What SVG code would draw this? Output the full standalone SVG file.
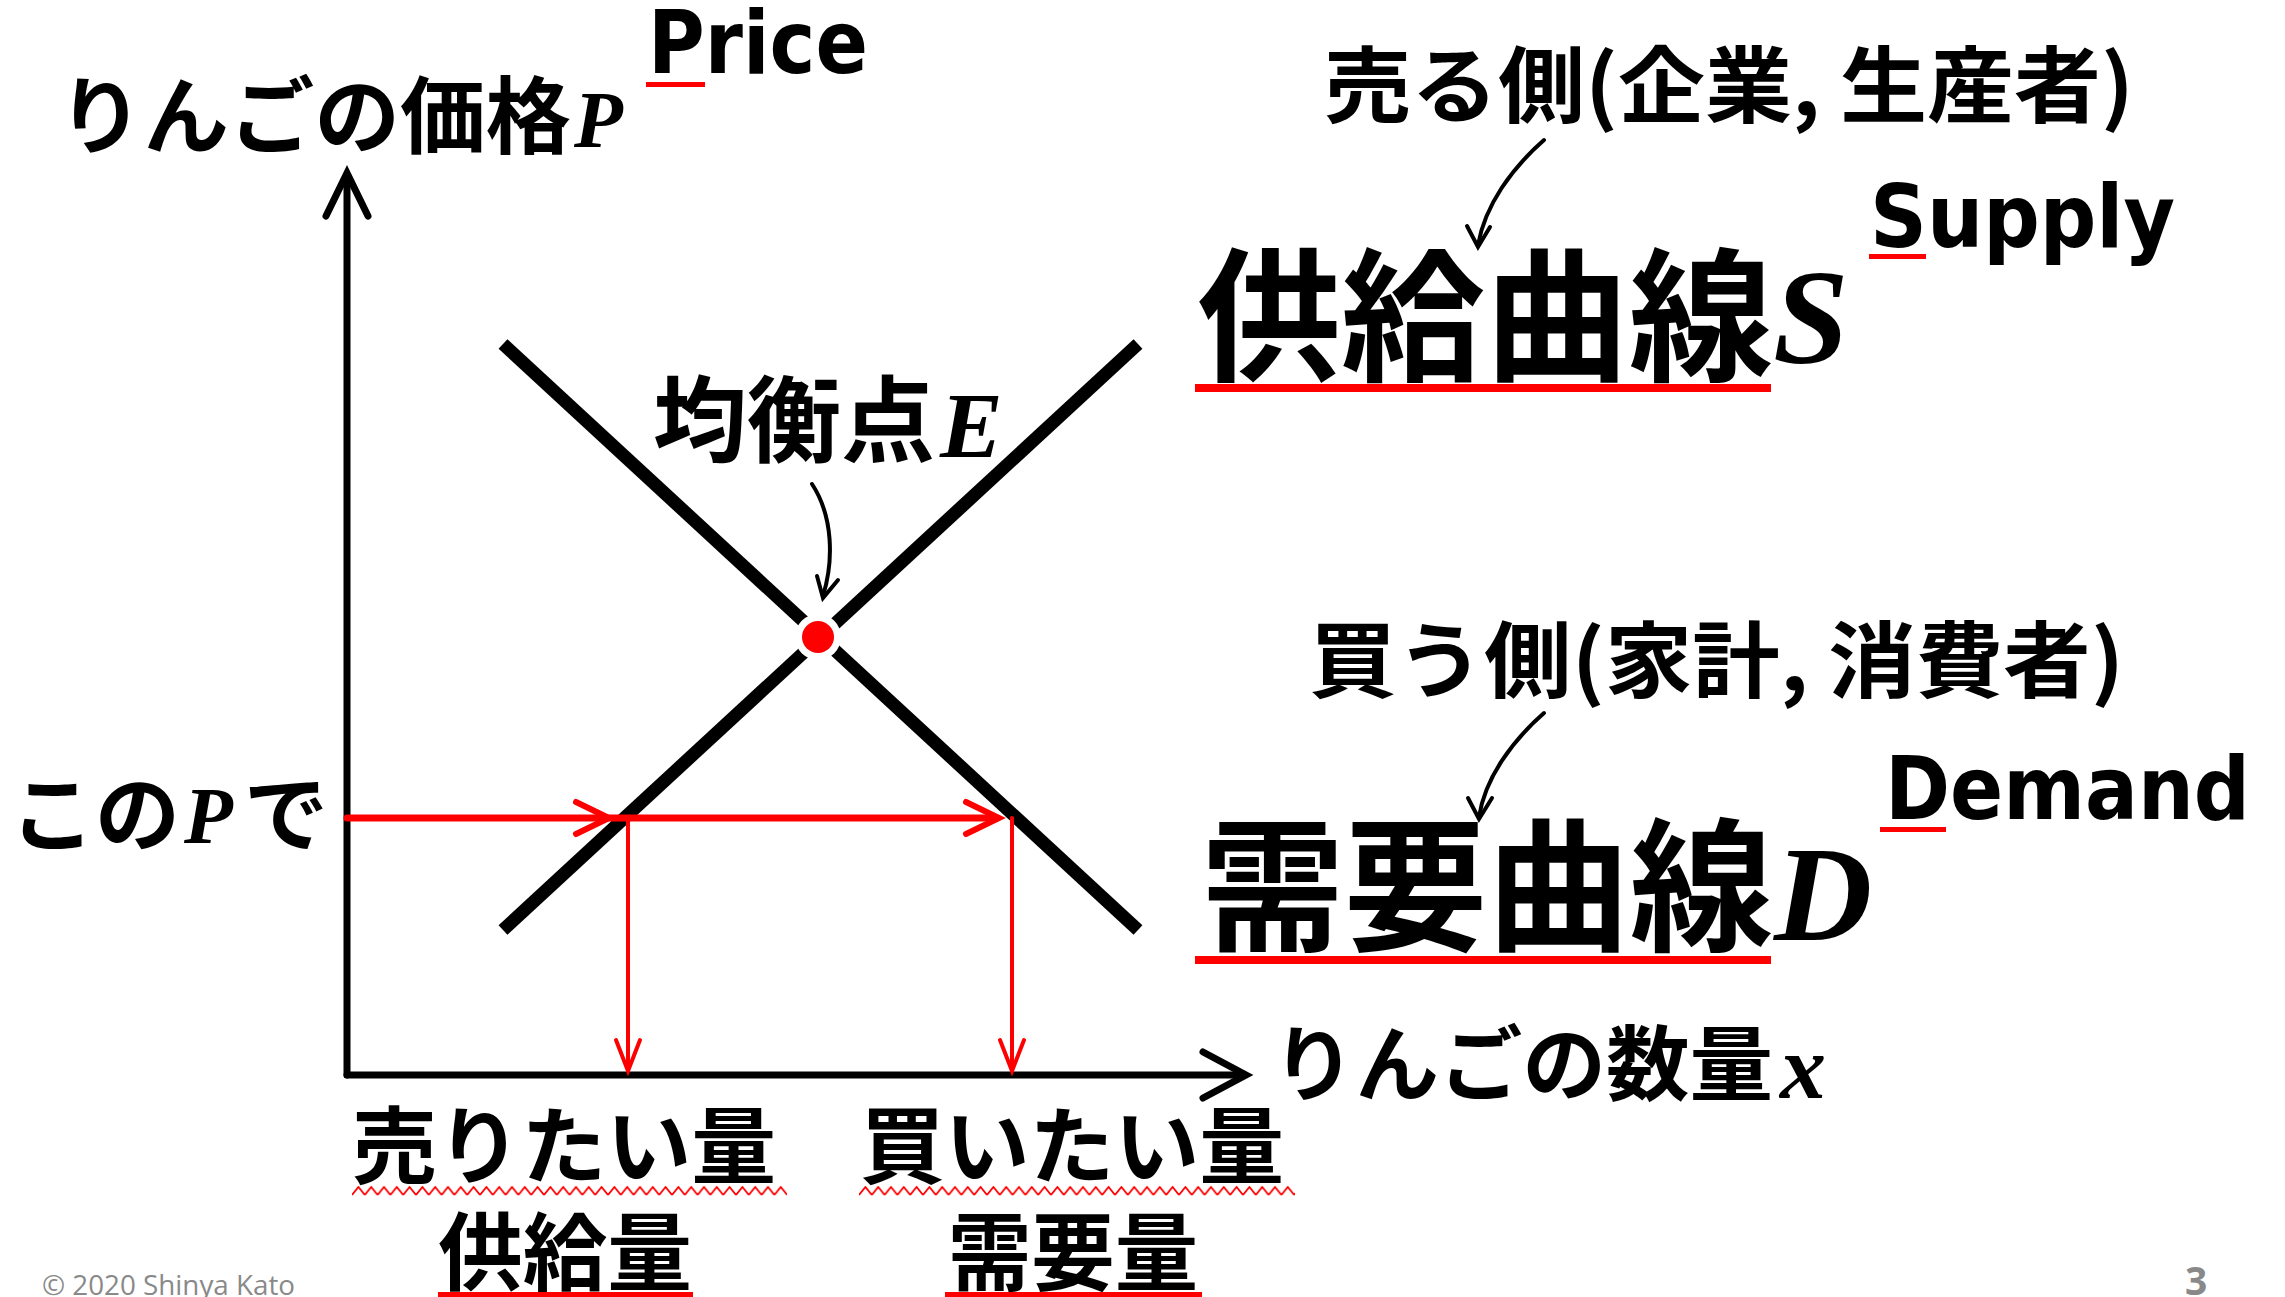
<svg xmlns="http://www.w3.org/2000/svg" width="2285" height="1297" viewBox="0 0 2285 1297">
<style>
.jp{font-family:"Noto Sans CJK JP","Noto Sans CJK SC",sans-serif;font-weight:700;fill:#000}
.it{font-family:"Liberation Serif",serif;font-style:italic;font-weight:700;fill:#000}
.en{font-family:"DejaVu Sans",sans-serif;font-weight:700;fill:#000}
.ul{fill:#FF0000}
.ax{stroke:#000;stroke-width:7;fill:none;stroke-linecap:round}
.curve{stroke:#000;stroke-width:13;fill:none}
.red{stroke:#FF0000;fill:none;stroke-linecap:round}
.call{stroke:#000;stroke-width:4;fill:none;stroke-linecap:round}
.foot{font-family:"Open Sans",sans-serif;fill:#898989}
</style>
<defs>
<pattern id="zig1" patternUnits="userSpaceOnUse" x="352" y="1186" width="12.8" height="10">
<path d="M0,9 L6.4,1 L12.8,9" stroke="#FF0000" stroke-width="1.8" fill="none"/>
</pattern>
<pattern id="zig2" patternUnits="userSpaceOnUse" x="859" y="1186" width="12.8" height="10">
<path d="M0,9 L6.4,1 L12.8,9" stroke="#FF0000" stroke-width="1.8" fill="none"/>
</pattern>
</defs>
<rect width="2285" height="1297" fill="#fff"/>

<g id="axes">
<line class="ax" x1="347" y1="1075" x2="347" y2="176"/>
<polyline class="ax" points="326,216 347,173 368,216" stroke-linejoin="miter"/>
<line class="ax" x1="347" y1="1075" x2="1242" y2="1075"/>
<polyline class="ax" points="1203,1052 1246,1075 1203,1098" stroke-linejoin="miter"/>
</g>

<g id="supply-curve">
<line class="curve" x1="503" y1="930" x2="1138" y2="344"/>
</g>
<g id="demand-curve">
<line class="curve" x1="503" y1="344" x2="1138" y2="930"/>
</g>

<g id="equilibrium">
<circle cx="818" cy="637" r="23" fill="#fff"/>
<circle cx="818" cy="637" r="16" fill="#FF0000"/>
</g>

<g id="connectors">
<line class="red" stroke-width="7" x1="347" y1="818" x2="996" y2="818" stroke-linecap="butt"/>
<polyline class="red" stroke-width="6" points="576,802 609,818 576,834"/>
<polyline class="red" stroke-width="6" points="966,802 999,818 966,834"/>
<line class="red" stroke-width="4" x1="628" y1="818" x2="628" y2="1068"/>
<polyline class="red" stroke-width="4" points="616,1040 628,1071 640,1040"/>
<line class="red" stroke-width="4" x1="1012" y1="818" x2="1012" y2="1068"/>
<polyline class="red" stroke-width="4" points="1000,1040 1012,1071 1024,1040"/>
<path class="call" d="M1544,140 C1512,168 1485,205 1478,245"/>
<polyline class="call" points="1467,226 1478,247 1490,227"/>
<path class="call" d="M1544,713 C1512,741 1485,778 1479,817"/>
<polyline class="call" points="1468,798 1479,819 1492,798"/>
<path class="call" d="M812,484 C833,516 834,560 823,596"/>
<polyline class="call" points="817,576 823,598 838,580"/>
</g>

<g id="label-price-axis">
<text class="jp" x="58" y="147" font-size="84" textLength="513" lengthAdjust="spacingAndGlyphs">りんごの価格</text>
<text class="it" x="574" y="147" font-size="80">P</text>
<text class="en" x="648" y="73" font-size="88" textLength="220" lengthAdjust="spacingAndGlyphs">Price</text>
<rect class="ul" x="646" y="82" width="59" height="5"/>
</g>

<g id="label-quantity-axis">
<text class="jp" x="1272" y="1094" font-size="82" textLength="501" lengthAdjust="spacingAndGlyphs">りんごの数量</text>
<text class="it" x="1780" y="1098" font-size="92">x</text>
</g>

<g id="label-seller">
<text class="jp" x="1324" y="116" font-size="83" textLength="810" lengthAdjust="spacingAndGlyphs">売る側(企業, 生産者)</text>
</g>

<g id="label-supply">
<text class="jp" x="1197" y="370" font-size="144" textLength="576" lengthAdjust="spacingAndGlyphs">供給曲線</text>
<text class="it" x="1773" y="363" font-size="136">S</text>
<rect class="ul" x="1195" y="384" width="576" height="8"/>
<text class="en" x="1870" y="247" font-size="88" textLength="305" lengthAdjust="spacingAndGlyphs">Supply</text>
<rect class="ul" x="1869" y="254" width="57" height="5"/>
</g>

<g id="label-equilibrium">
<text class="jp" x="653" y="455" font-size="94" textLength="282" lengthAdjust="spacingAndGlyphs">均衡点</text>
<text class="it" x="940" y="457" font-size="94">E</text>
</g>

<g id="label-buyer">
<text class="jp" x="1309" y="691" font-size="83" textLength="815" lengthAdjust="spacingAndGlyphs">買う側(家計, 消費者)</text>
</g>

<g id="label-demand">
<text class="jp" x="1201" y="940" font-size="144" textLength="572" lengthAdjust="spacingAndGlyphs">需要曲線</text>
<text class="it" x="1774" y="940" font-size="136">D</text>
<rect class="ul" x="1195" y="956" width="576" height="8"/>
<text class="en" x="1885" y="819" font-size="88" textLength="365" lengthAdjust="spacingAndGlyphs">Demand</text>
<rect class="ul" x="1880" y="827" width="66" height="5"/>
</g>

<g id="label-this-p">
<text class="jp" x="10" y="845" font-size="84" textLength="170" lengthAdjust="spacingAndGlyphs">この</text>
<text class="it" x="184" y="843" font-size="80">P</text>
<text class="jp" x="244" y="845" font-size="84">で</text>
</g>

<g id="label-sell-qty">
<text class="jp" x="352" y="1177" font-size="84" textLength="424" lengthAdjust="spacingAndGlyphs">売りたい量</text>
<rect x="352" y="1186" width="435" height="10" fill="url(#zig1)"/>
<text class="jp" x="438" y="1284" font-size="85" textLength="254" lengthAdjust="spacingAndGlyphs">供給量</text>
<rect class="ul" x="438" y="1292" width="255" height="5"/>
</g>

<g id="label-buy-qty">
<text class="jp" x="860" y="1177" font-size="84" textLength="424" lengthAdjust="spacingAndGlyphs">買いたい量</text>
<rect x="859" y="1186" width="436" height="10" fill="url(#zig2)"/>
<text class="jp" x="948" y="1284" font-size="85" textLength="250" lengthAdjust="spacingAndGlyphs">需要量</text>
<rect class="ul" x="945" y="1292" width="257" height="5"/>
</g>

<g id="footer">
<text class="foot" x="42" y="1295" font-size="28" textLength="253" lengthAdjust="spacingAndGlyphs">© 2020 Shinya Kato</text>
<text class="foot" x="2185" y="1295" font-size="39" font-weight="700">3</text>
</g>
</svg>
